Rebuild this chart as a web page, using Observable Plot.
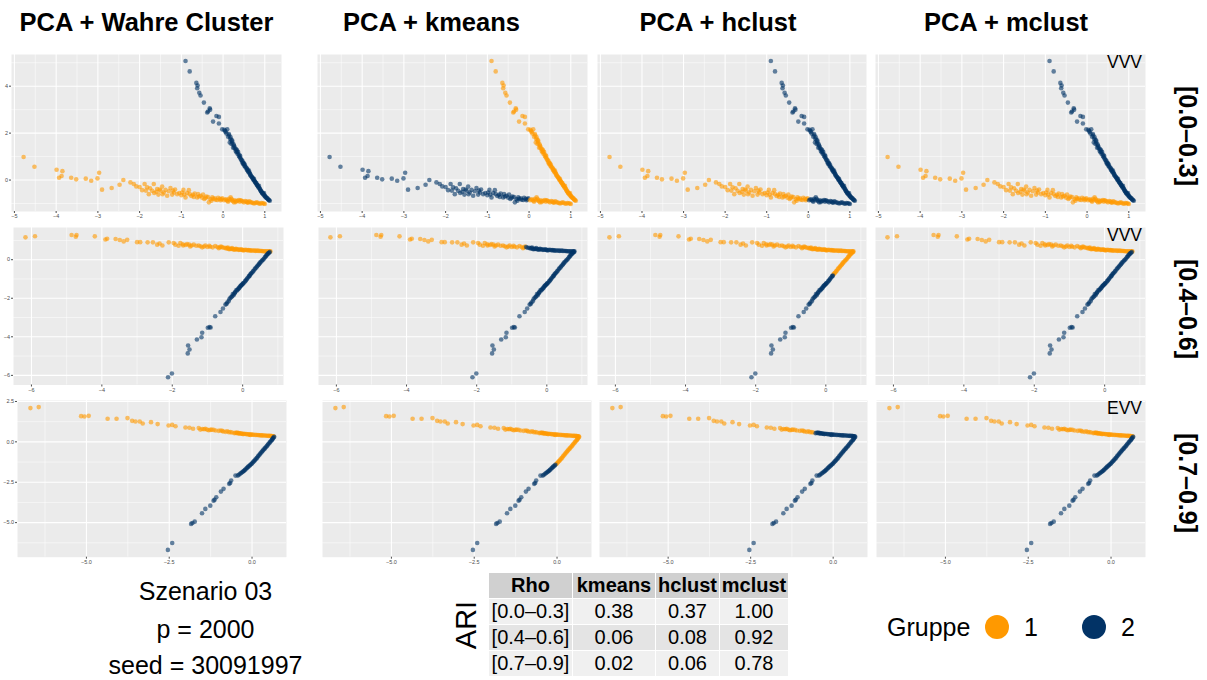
<!DOCTYPE html>
<html><head><meta charset="utf-8">
<script src="https://cdn.jsdelivr.net/npm/d3@7"></script>
<script src="https://cdn.jsdelivr.net/npm/@observablehq/plot@0.6"></script>
<style>
body{margin:0;background:#fff;font-family:"Liberation Sans",Arial,sans-serif;color:#000;}
#root{position:relative;width:1207px;height:680px;overflow:hidden;}
.ctr{position:absolute;transform:translate(-50%,-50%);white-space:nowrap;}
.title{font-weight:bold;font-size:25.5px;}
.rowlab{position:absolute;font-weight:bold;font-size:25px;transform:translate(-50%,-50%) rotate(90deg);white-space:nowrap;}
.info{font-size:25px;}
#ari{position:absolute;font-size:29px;transform:translate(-50%,-50%) rotate(-90deg);white-space:nowrap;}
#tbl{position:absolute;left:488px;top:572px;border-collapse:collapse;table-layout:fixed;font-size:20px;}
#tbl td,#tbl th{border:1px solid #fff;height:25px;padding:0;text-align:center;}
#tbl th{background:#D0D0D0;font-weight:bold;}
.leg{position:absolute;font-size:25px;white-space:nowrap;transform:translateY(-50%);}
.dotl{position:absolute;width:24px;height:24px;border-radius:50%;transform:translate(-50%,-50%);}
</style>
</head><body><div id="root"></div>
<script>
// ---------- data ----------
const colTitles = ["PCA + Wahre Cluster", "PCA + kmeans", "PCA + hclust", "PCA + mclust"];
const rowLabels = ["[0.0–0.3]", "[0.4–0.6]", "[0.7–0.9]"];
const modelNames = ["VVV", "VVV", "EVV"];
const groups = ["1", "2"];
const groupColors = ["#FF9900", "#023366"];
const infoLines = ["Szenario 03", "p = 2000", "seed = 30091997"];
const tableHeader = ["Rho", "kmeans", "hclust", "mclust"];
const ariKmeans = [0.38, 0.06, 0.02];
const ariHclust = [0.37, 0.08, 0.06];
const ariMclust = [1.00, 0.92, 0.78];

// point tuples: [PC1, PC2, true cluster, kmeans, hclust, mclust]
const row1Points = [
 // arm of cluster 1
 [-4.78,0.98,1,2,1,1],[-4.52,0.57,1,2,1,1],[-3.99,0.44,1,2,1,1],[-3.85,0.38,1,2,1,1],[-3.93,0.10,1,2,1,1],
 [-3.87,0.17,1,2,1,1],[-3.64,0.10,1,2,1,1],[-3.52,0.03,1,2,1,1],[-3.29,0.06,1,2,1,1],[-3.16,-0.03,1,2,1,1],
 [-3.01,0.07,1,2,1,1],[-2.97,0.31,1,2,1,1],[-2.90,-0.41,1,2,1,1],[-2.67,-0.34,1,2,1,1],[-2.48,-0.20,1,2,1,1],
 [-2.39,0.00,1,2,1,1],[-2.22,-0.10,1,2,1,1],[-2.14,-0.17,1,2,1,1],[-2.08,-0.27,1,2,1,1],[-2.00,-0.30,1,2,1,1],
 [-1.94,-0.43,1,2,1,1],[-1.88,-0.17,1,2,1,1],[-1.82,-0.31,1,2,1,1],[-1.78,-0.60,1,2,1,1],[-1.70,-0.46,1,2,1,1],
 [-1.66,-0.17,1,2,1,1],[-1.60,-0.50,1,2,1,1],[-1.58,-0.38,1,2,1,1],[-1.55,-0.62,1,2,1,1],[-1.50,-0.45,1,2,1,1],
 [-1.46,-0.28,1,2,1,1],[-1.42,-0.53,1,2,1,1],[-1.34,-0.67,1,2,1,1],[-1.30,-0.48,1,2,1,1],[-1.26,-0.34,1,2,1,1],
 [-1.20,-0.45,1,2,1,1],[-1.18,-0.53,1,2,1,1],[-1.10,-0.60,1,2,1,1],[-1.00,-0.65,1,2,1,1],[-0.98,-0.53,1,2,1,1],
 [-0.95,-0.42,1,2,1,1],[-0.90,-0.74,1,2,1,1],[-0.82,-0.43,1,2,1,1],[-0.80,-0.60,1,2,1,1],[-0.72,-0.63,1,2,1,1],
 [-0.70,-0.72,1,2,1,1],[-0.62,-0.74,1,2,1,1],[-0.60,-0.60,1,2,1,1],[-0.54,-0.67,1,2,1,1],[-0.45,-0.81,1,2,1,1],
 [-0.40,-0.70,1,2,1,1],[-0.34,-0.95,1,2,1,1],[-0.30,-0.82,1,2,1,1],[-0.26,-0.74,1,2,1,1],[-0.20,-0.78,1,2,1,1],
 [-0.14,-0.85,1,2,1,1],[-0.08,-0.80,1,2,1,1],[-0.02,-0.78,1,2,1,1],
 [-1.85,-0.45,1,2,1,1],[-1.75,-0.35,1,2,1,1],[-1.65,-0.55,1,2,1,1],[-1.52,-0.40,1,2,1,1],[-1.45,-0.60,1,2,1,1],
 [-1.38,-0.42,1,2,1,1],[-1.22,-0.62,1,2,1,1],[-1.15,-0.40,1,2,1,1],[-1.05,-0.55,1,2,1,1],[-0.93,-0.62,1,2,1,1],
 [-0.86,-0.55,1,2,1,1],[-0.76,-0.68,1,2,1,1],[-0.68,-0.58,1,2,1,1],[-0.58,-0.70,1,2,1,1],[-0.50,-0.75,1,2,1,1],
 [-0.48,-0.62,1,2,1,1],[-0.42,-0.76,1,2,1,1],[-0.36,-0.72,1,2,1,1],[-0.28,-0.88,1,2,1,1],[-0.24,-0.80,1,2,1,1],
 [-0.18,-0.84,1,2,1,1],[-0.12,-0.76,1,2,1,1],[-0.06,-0.86,1,2,1,1],[-0.04,-0.82,1,2,1,1],
 [0.05,-0.82,1,1,2,1],[0.10,-0.88,1,1,2,1],[0.14,-0.80,1,1,2,1],[0.18,-0.74,1,1,2,1],[0.22,-0.86,1,1,2,1],
 [0.26,-0.95,1,1,2,1],[0.32,-0.90,1,1,2,1],[0.38,-0.85,1,1,2,1],[0.44,-0.88,1,1,2,1],[0.50,-0.95,1,1,2,1],
 [0.56,-0.92,1,1,2,1],[0.62,-0.91,1,1,2,1],[0.68,-0.96,1,1,2,1],[0.74,-1.00,1,1,2,1],[0.80,-0.95,1,1,2,1],
 [0.86,-1.00,1,1,2,1],[0.92,-0.98,1,1,2,1],[0.98,-1.00,1,1,2,1],
 [0.02,-0.86,1,1,2,1],[0.08,-0.84,1,1,2,1],[0.12,-0.92,1,1,2,1],[0.16,-0.86,1,1,2,1],[0.20,-0.80,1,1,2,1],
 [0.24,-0.90,1,1,2,1],[0.28,-0.86,1,1,2,1],[0.30,-0.94,1,1,2,1],[0.35,-0.88,1,1,2,1],[0.40,-0.92,1,1,2,1],
 [0.42,-0.86,1,1,2,1],[0.47,-0.91,1,1,2,1],[0.53,-0.90,1,1,2,1],[0.58,-0.95,1,1,2,1],[0.60,-0.97,1,1,2,1],
 [0.65,-0.93,1,1,2,1],[0.71,-0.97,1,1,2,1],[0.77,-0.98,1,1,2,1],[0.83,-0.97,1,1,2,1],[0.89,-1.01,1,1,2,1],
 [0.95,-0.99,1,1,2,1],[1.00,-1.02,1,1,2,1],
 // arm of cluster 2
 [-0.90,5.07,2,1,2,2],[-0.80,4.63,2,1,2,2],[-0.64,4.14,2,1,2,2],[-0.61,4.03,2,1,2,2],[-0.62,3.91,2,1,2,2],
 [-0.57,3.72,2,1,2,2],[-0.54,3.60,2,1,2,2],[-0.46,3.30,2,1,2,2],[-0.36,2.92,2,1,2,2],[-0.32,3.06,2,1,2,2],
 [-0.31,3.00,2,1,2,2],[-0.38,2.88,2,1,2,2],[-0.16,2.73,2,1,2,2],[-0.10,2.69,2,1,2,2],[-0.24,2.49,2,1,2,2],
 [-0.10,2.41,2,1,2,2],[-0.02,2.16,2,1,2,2],[0.03,2.14,2,1,2,2],[0.10,2.16,2,1,2,2],[0.06,2.05,2,1,2,2],
 [0.14,1.96,2,1,2,2],[0.12,1.85,2,1,2,2],[0.18,1.82,2,1,2,2],[0.20,1.70,2,1,2,2],[0.22,1.68,2,1,2,2],
 [0.16,1.60,2,1,2,2],[0.20,1.54,2,1,2,2],[0.26,1.47,2,1,2,2],[0.24,1.38,2,1,2,2],[0.28,1.35,2,1,2,2],
 [0.30,1.25,2,1,2,2],[0.32,1.18,2,1,2,2],[0.36,1.20,2,1,2,2],[0.35,1.11,2,1,2,2],[0.38,1.02,2,1,2,2],
 [0.40,0.97,2,1,2,2],[0.43,0.86,2,1,2,2],[0.46,0.75,2,1,2,2],[0.48,0.68,2,1,2,2],[0.50,0.70,2,1,2,2],
 [0.51,0.61,2,1,2,2],[0.54,0.54,2,1,2,2],[0.58,0.47,2,1,2,2],[0.60,0.38,2,1,2,2],[0.62,0.40,2,1,2,2],
 [0.64,0.28,2,1,2,2],[0.66,0.20,2,1,2,2],[0.70,0.11,2,1,2,2],[0.72,0.04,2,1,2,2],[0.74,0.05,2,1,2,2],
 [0.75,-0.03,2,1,2,2],[0.78,-0.12,2,1,2,2],[0.81,-0.20,2,1,2,2],[0.84,-0.28,2,1,2,2],[0.86,-0.25,2,1,2,2],
 [0.88,-0.38,2,1,2,2],[0.90,-0.45,2,1,2,2],[0.93,-0.53,2,1,2,2],[0.96,-0.60,2,1,2,2],[0.98,-0.55,2,1,2,2],
 [0.99,-0.67,2,1,2,2],[1.02,-0.72,2,1,2,2],[1.05,-0.77,2,1,2,2],[1.08,-0.82,2,1,2,2],[1.12,-0.88,2,1,2,2],
 [0.05,2.10,2,1,2,2],[0.08,1.98,2,1,2,2],[0.15,1.90,2,1,2,2],[0.17,1.75,2,1,2,2],[0.22,1.60,2,1,2,2],
 [0.25,1.52,2,1,2,2],[0.27,1.42,2,1,2,2],[0.31,1.32,2,1,2,2],[0.33,1.28,2,1,2,2],[0.34,1.20,2,1,2,2],
 [0.39,1.08,2,1,2,2],[0.41,1.02,2,1,2,2],[0.42,0.92,2,1,2,2],[0.45,0.85,2,1,2,2],[0.47,0.80,2,1,2,2],
 [0.49,0.72,2,1,2,2],[0.52,0.66,2,1,2,2],[0.53,0.58,2,1,2,2],[0.56,0.52,2,1,2,2],[0.57,0.44,2,1,2,2],
 [0.59,0.42,2,1,2,2],[0.61,0.33,2,1,2,2],[0.63,0.32,2,1,2,2],[0.65,0.24,2,1,2,2],[0.67,0.16,2,1,2,2],
 [0.69,0.14,2,1,2,2],[0.71,0.08,2,1,2,2],[0.73,0.00,2,1,2,2],[0.76,-0.06,2,1,2,2],[0.77,-0.08,2,1,2,2],
 [0.79,-0.15,2,1,2,2],[0.80,-0.14,2,1,2,2],[0.82,-0.22,2,1,2,2],[0.83,-0.25,2,1,2,2],[0.85,-0.32,2,1,2,2],
 [0.87,-0.34,2,1,2,2],[0.89,-0.40,2,1,2,2],[0.91,-0.48,2,1,2,2],[0.92,-0.50,2,1,2,2],[0.94,-0.56,2,1,2,2],
 [0.95,-0.55,2,1,2,2],[0.97,-0.62,2,1,2,2],[1.00,-0.66,2,1,2,2],[1.01,-0.70,2,1,2,2],[1.03,-0.75,2,1,2,2],
 [1.06,-0.78,2,1,2,2],[1.09,-0.84,2,1,2,2],[1.10,-0.86,2,1,2,2]
];

const row2Points = [
 // arm of cluster 1
 [-6.17,1.16,1,1,1,1],[-5.90,1.22,1,1,1,1],[-4.86,1.28,1,1,1,1],[-4.74,1.19,1,1,1,1],[-4.72,1.28,1,1,1,1],
 [-4.20,1.21,1,1,1,1],[-3.90,1.05,1,1,1,1],[-3.85,1.09,1,1,1,1],[-3.61,1.07,1,1,1,1],[-3.49,1.02,1,1,1,1],
 [-3.38,0.95,1,1,1,1],[-3.28,1.03,1,1,1,1],[-3.00,0.91,1,1,1,1],[-2.91,0.91,1,1,1,1],[-2.70,0.90,1,1,1,1],
 [-2.55,0.90,1,1,1,1],[-2.43,0.78,1,1,1,1],[-2.36,0.84,1,1,1,1],[-2.28,0.74,1,1,1,1],[-2.10,0.90,1,1,1,1],
 [-1.96,0.86,1,1,1,1],[-1.91,0.78,1,1,1,1],[-1.82,0.72,1,1,1,1],[-1.77,0.86,1,1,1,1],[-1.69,0.74,1,1,1,1],
 [-1.58,0.81,1,1,1,1],[-1.49,0.69,1,1,1,1],[-1.39,0.78,1,1,1,1],[-1.25,0.74,1,1,1,1],[-1.15,0.64,1,1,1,1],
 [-1.06,0.74,1,1,1,1],[-0.92,0.67,1,1,1,1],[-0.78,0.71,1,1,1,1],[-0.68,0.60,1,1,1,1],[-0.62,0.68,1,1,1,1],
 [-1.70,0.80,1,1,1,1],[-1.62,0.76,1,1,1,1],[-1.52,0.78,1,1,1,1],[-1.45,0.74,1,1,1,1],[-1.32,0.72,1,1,1,1],
 [-1.20,0.70,1,1,1,1],[-1.10,0.68,1,1,1,1],[-1.00,0.66,1,1,1,1],[-0.95,0.72,1,1,1,1],[-0.85,0.64,1,1,1,1],
 [-0.72,0.66,1,1,1,1],[-0.65,0.63,1,1,1,1],
 [-0.59,0.66,1,2,1,1],[-0.50,0.62,1,2,1,1],[-0.44,0.60,1,2,1,1],[-0.40,0.56,1,2,1,1],[-0.35,0.57,1,2,1,1],
 [-0.30,0.60,1,2,1,1],[-0.25,0.53,1,2,1,1],[-0.20,0.56,1,2,1,1],[-0.14,0.53,1,2,1,1],[-0.08,0.52,1,2,1,1],
 [-0.02,0.52,1,2,1,1],[0.05,0.50,1,2,1,1],[0.12,0.50,1,2,1,1],[0.20,0.49,1,2,1,1],[0.26,0.48,1,2,1,1],
 [0.34,0.47,1,2,1,1],[0.41,0.47,1,2,1,1],[0.48,0.46,1,2,1,1],[0.55,0.45,1,2,1,1],[0.62,0.44,1,2,1,1],
 [0.69,0.43,1,2,1,1],[0.75,0.43,1,2,1,1],[0.79,0.43,1,2,1,1],
 [-0.55,0.62,1,2,1,1],[-0.47,0.58,1,2,1,1],[-0.42,0.63,1,2,1,1],[-0.37,0.54,1,2,1,1],[-0.32,0.56,1,2,1,1],
 [-0.28,0.55,1,2,1,1],[-0.22,0.52,1,2,1,1],[-0.17,0.55,1,2,1,1],[-0.11,0.51,1,2,1,1],[-0.05,0.53,1,2,1,1],
 [0.00,0.50,1,2,1,1],[0.02,0.48,1,2,1,1],[0.08,0.51,1,2,1,1],[0.15,0.48,1,2,1,1],[0.17,0.50,1,2,1,1],
 [0.23,0.47,1,2,1,1],[0.30,0.48,1,2,1,1],[0.37,0.46,1,2,1,1],[0.44,0.46,1,2,1,1],[0.52,0.45,1,2,1,1],
 [0.58,0.44,1,2,1,1],[0.65,0.43,1,2,1,1],[0.72,0.42,1,2,1,1],[0.77,0.42,1,2,1,1],
 // arm of cluster 2
 [0.77,0.40,2,2,1,2],[0.73,0.33,2,2,1,2],[0.69,0.26,2,2,1,2],[0.65,0.16,2,2,1,2],[0.60,0.05,2,2,1,2],
 [0.55,-0.04,2,2,1,2],[0.50,-0.14,2,2,1,2],[0.46,-0.24,2,2,1,2],[0.41,-0.34,2,2,1,2],[0.36,-0.45,2,2,1,2],
 [0.31,-0.57,2,2,1,2],[0.26,-0.68,2,2,1,2],[0.22,-0.76,2,2,1,2],
 [0.75,0.36,2,2,1,2],[0.71,0.30,2,2,1,2],[0.67,0.21,2,2,1,2],[0.63,0.12,2,2,1,2],[0.58,0.00,2,2,1,2],
 [0.53,-0.09,2,2,1,2],[0.48,-0.19,2,2,1,2],[0.44,-0.29,2,2,1,2],[0.39,-0.40,2,2,1,2],[0.34,-0.50,2,2,1,2],
 [0.29,-0.62,2,2,1,2],[0.24,-0.72,2,2,1,2],
 [0.20,-0.82,2,2,2,2],[0.17,-0.88,2,2,2,2],[0.12,-1.00,2,2,2,2],[0.10,-1.05,2,2,2,2],[0.08,-1.10,2,2,2,2],
 [0.03,-1.21,2,2,2,2],[0.00,-1.25,2,2,2,2],[-0.02,-1.30,2,2,2,2],[-0.05,-1.35,2,2,2,2],[-0.07,-1.38,2,2,2,2],
 [-0.10,-1.48,2,2,2,2],[-0.14,-1.55,2,2,2,2],[-0.18,-1.58,2,2,2,2],[-0.21,-1.67,2,2,2,2],[-0.22,-1.72,2,2,2,2],
 [-0.28,-1.78,2,2,2,2],[-0.26,-1.84,2,2,2,2],[-0.30,-1.90,2,2,2,2],[-0.35,-1.98,2,2,2,2],[-0.40,-2.16,2,2,2,2],
 [0.19,-0.85,2,2,2,2],[0.14,-0.95,2,2,2,2],[0.06,-1.14,2,2,2,2],[0.01,-1.24,2,2,2,2],[-0.04,-1.33,2,2,2,2],
 [-0.09,-1.43,2,2,2,2],[-0.12,-1.50,2,2,2,2],[-0.16,-1.60,2,2,2,2],[-0.24,-1.76,2,2,2,2],[-0.32,-1.94,2,2,2,2],
 [-0.38,-2.05,2,2,2,2],[-0.44,-2.22,2,2,2,2],[-0.46,-2.30,2,2,2,2],
 [-0.49,-2.33,2,2,2,2],[-0.56,-2.53,2,2,2,2],[-0.63,-2.71,2,2,2,2],[-0.78,-2.93,2,2,2,2],[-0.94,-3.50,2,2,2,2],
 [-0.99,-3.53,2,2,2,2],[-0.91,-3.52,2,2,2,2],[-1.15,-3.79,2,2,2,2],[-1.30,-4.14,2,2,2,2],[-1.17,-4.02,2,2,2,2],
 [-1.55,-4.45,2,2,2,2],[-1.51,-4.66,2,2,2,2],[-1.56,-4.86,2,2,2,2],[-2.01,-5.90,2,2,2,2],[-2.12,-6.10,2,2,2,2]
];

const row3Points = [
 // arm of cluster 1
 [-6.69,2.09,1,1,1,1],[-6.44,2.15,1,1,1,1],[-5.16,1.59,1,1,1,1],[-5.06,1.57,1,1,1,1],[-4.93,1.61,1,1,1,1],
 [-4.36,1.43,1,1,1,1],[-4.09,1.43,1,1,1,1],[-3.76,1.47,1,1,1,1],[-3.62,1.30,1,1,1,1],[-3.52,1.26,1,1,1,1],
 [-3.39,1.26,1,1,1,1],[-3.30,1.14,1,1,1,1],[-3.05,1.22,1,1,1,1],[-2.85,1.10,1,1,1,1],[-2.52,1.01,1,1,1,1],
 [-2.41,1.05,1,1,1,1],[-2.31,0.97,1,1,1,1],[-2.01,0.89,1,1,1,1],[-1.89,0.87,1,1,1,1],[-1.78,0.81,1,1,1,1],
 [-1.61,0.85,1,1,1,1],[-1.56,0.76,1,1,1,1],[-1.50,0.80,1,1,1,1],[-1.41,0.81,1,1,1,1],[-1.31,0.72,1,1,1,1],
 [-1.22,0.76,1,1,1,1],[-1.16,0.74,1,1,1,1],[-1.01,0.68,1,1,1,1],[-0.95,0.70,1,1,1,1],[-0.87,0.64,1,1,1,1],
 [-0.75,0.66,1,1,1,1],[-0.70,0.60,1,1,1,1],[-0.65,0.60,1,1,1,1],
 [-1.45,0.78,1,1,1,1],[-1.36,0.76,1,1,1,1],[-1.26,0.74,1,1,1,1],[-1.10,0.70,1,1,1,1],[-0.90,0.68,1,1,1,1],
 [-0.80,0.62,1,1,1,1],[-0.60,0.58,1,1,1,1],
 [-0.50,0.56,1,1,2,1],[-0.45,0.58,1,1,2,1],[-0.40,0.54,1,1,2,1],[-0.35,0.52,1,1,2,1],[-0.30,0.50,1,1,2,1],
 [-0.24,0.50,1,1,2,1],[-0.17,0.48,1,1,2,1],[-0.10,0.46,1,1,2,1],[-0.05,0.43,1,1,2,1],[0.02,0.44,1,1,2,1],
 [0.10,0.43,1,1,2,1],[0.18,0.42,1,1,2,1],[0.25,0.41,1,1,2,1],[0.32,0.40,1,1,2,1],[0.40,0.39,1,1,2,1],
 [0.48,0.38,1,1,2,1],[0.55,0.37,1,1,2,1],[0.60,0.36,1,1,2,1],[0.65,0.35,1,1,2,1],
 [-0.53,0.54,1,1,2,1],[-0.47,0.55,1,1,2,1],[-0.42,0.52,1,1,2,1],[-0.38,0.53,1,1,2,1],[-0.32,0.51,1,1,2,1],
 [-0.27,0.48,1,1,2,1],[-0.21,0.49,1,1,2,1],[-0.14,0.47,1,1,2,1],[-0.07,0.45,1,1,2,1],[-0.02,0.46,1,1,2,1],
 [0.05,0.44,1,1,2,1],[0.14,0.42,1,1,2,1],[0.21,0.41,1,1,2,1],[0.28,0.40,1,1,2,1],[0.36,0.39,1,1,2,1],
 [0.44,0.38,1,1,2,1],[0.51,0.37,1,1,2,1],[0.58,0.36,1,1,2,1],[0.63,0.35,1,1,2,1],
 // arm of cluster 2
 [0.67,0.31,2,1,2,2],[0.63,0.22,2,1,2,2],[0.60,0.12,2,1,2,2],[0.55,0.00,2,1,2,2],[0.50,-0.12,2,1,2,2],
 [0.45,-0.25,2,1,2,2],[0.40,-0.37,2,1,2,2],[0.35,-0.48,2,1,2,2],[0.30,-0.60,2,1,2,2],[0.25,-0.72,2,1,2,2],
 [0.20,-0.85,2,1,2,2],[0.15,-0.98,2,1,2,2],[0.10,-1.10,2,1,2,2],[0.05,-1.20,2,1,2,2],[0.00,-1.32,2,1,2,2],
 [0.65,0.27,2,1,2,2],[0.62,0.17,2,1,2,2],[0.58,0.07,2,1,2,2],[0.53,-0.05,2,1,2,2],[0.48,-0.18,2,1,2,2],
 [0.43,-0.30,2,1,2,2],[0.38,-0.42,2,1,2,2],[0.33,-0.54,2,1,2,2],[0.28,-0.66,2,1,2,2],[0.23,-0.78,2,1,2,2],
 [0.18,-0.91,2,1,2,2],[0.13,-1.04,2,1,2,2],[0.08,-1.15,2,1,2,2],[0.03,-1.26,2,1,2,2],[-0.02,-1.37,2,1,2,2],
 [-0.05,-1.42,2,2,2,2],[-0.10,-1.51,2,2,2,2],[-0.15,-1.60,2,2,2,2],[-0.20,-1.71,2,2,2,2],[-0.25,-1.80,2,2,2,2],
 [-0.07,-1.46,2,2,2,2],[-0.12,-1.55,2,2,2,2],[-0.17,-1.65,2,2,2,2],[-0.22,-1.75,2,2,2,2],[-0.27,-1.84,2,2,2,2],
 [-0.33,-1.93,2,2,2,2],[-0.40,-2.04,2,2,2,2],
 [-0.30,-1.88,2,2,2,2],[-0.36,-1.98,2,2,2,2],[-0.43,-2.09,2,2,2,2],[-0.50,-2.09,2,2,2,2],[-0.63,-2.40,2,2,2,2],
 [-0.66,-2.55,2,2,2,2],[-0.69,-2.60,2,2,2,2],[-0.86,-2.91,2,2,2,2],[-0.94,-3.08,2,2,2,2],[-1.08,-3.43,2,2,2,2],
 [-1.13,-3.58,2,2,2,2],[-1.16,-3.64,2,2,2,2],[-1.26,-3.95,2,2,2,2],[-1.41,-4.15,2,2,2,2],[-1.51,-4.42,2,2,2,2],
 [-1.73,-4.94,2,2,2,2],[-1.80,-5.02,2,2,2,2],[-1.84,-5.08,2,2,2,2],[-2.41,-6.26,2,2,2,2],[-2.54,-6.69,2,2,2,2]
];

// axis domains and ticks per row
const row1XDomain = [-5.07, 1.40], row1YDomain = [-1.34, 5.35];
const row1XMajor = [-5, -4, -3, -2, -1, 0, 1], row1XMinor = [-4.5, -3.5, -2.5, -1.5, -0.5, 0.5];
const row1YMajor = [0, 2, 4], row1YMinor = [-1, 1, 3, 5];
const row2XDomain = [-6.51, 1.16], row2YDomain = [-6.50, 1.67];
const row2XMajor = [-6, -4, -2, 0], row2XMinor = [-5, -3, -1, 1];
const row2YMajor = [-6, -4, -2, 0], row2YMinor = [-5, -3, -1, 1];
const row3XDomain = [-7.08, 1.04], row3YDomain = [-7.14, 2.56];
const row3XMajor = [-5, -2.5, 0], row3XMinor = [-6.25, -3.75, -1.25];
const row3YMajor = [-5, -2.5, 0, 2.5], row3YMinor = [-6.25, -3.75, -1.25, 1.25];

// ---------- layout ----------
const rows = [
  {pts: row1Points, xd: row1XDomain, yd: row1YDomain, xM: row1XMajor, xm: row1XMinor, yM: row1YMajor, ym: row1YMinor, fmt: d3.format("d"), top: 54, h: 157,
   boxes: [[11, 270], [317, 270], [597, 269], [875, 270]], labY: 136},
  {pts: row2Points, xd: row2XDomain, yd: row2YDomain, xM: row2XMajor, xm: row2XMinor, yM: row2YMajor, ym: row2YMinor, fmt: d3.format("d"), top: 226.5, h: 157.5,
   boxes: [[13, 270], [318, 269], [597, 269], [875, 270]], labY: 309},
  {pts: row3Points, xd: row3XDomain, yd: row3YDomain, xM: row3XMajor, xm: row3XMinor, yM: row3YMajor, ym: row3YMinor, fmt: d3.format(".1f"), top: 400, h: 156.7,
   boxes: [[17, 269], [322, 269], [599, 268], [876, 269]], labY: 483}
];
const titleX = [146.5, 431.5, 718, 1006];

const root = document.getElementById("root");
function addDiv(cls, text, x, y, extra) {
  const d = document.createElement("div");
  d.className = cls; d.textContent = text;
  d.style.left = x + "px"; d.style.top = y + "px";
  if (extra) Object.assign(d.style, extra);
  root.appendChild(d); return d;
}

colTitles.forEach((t, i) => addDiv("ctr title", t, titleX[i], 22));

const mL = 22, mB = 12;
rows.forEach((r, ri) => {
  r.boxes.forEach(([left, w], ci) => {
    const marks = [
      Plot.frame({fill: "#EBEBEB", stroke: null}),
      Plot.ruleX(r.xm, {stroke: "#fff", strokeWidth: 0.5}),
      Plot.ruleY(r.ym, {stroke: "#fff", strokeWidth: 0.5}),
      Plot.ruleX(r.xM, {stroke: "#fff", strokeWidth: 1.05}),
      Plot.ruleY(r.yM, {stroke: "#fff", strokeWidth: 1.05}),
      Plot.dot(r.pts, {x: d => d[0], y: d => d[1], fill: d => String(d[2 + ci]), r: 2.3, fillOpacity: 0.6, stroke: null}),
      Plot.axisX({ticks: r.xM, tickFormat: r.fmt, tickSize: 2, tickPadding: 1, fontSize: 5.5, color: "#4D4D4D"})
    ];
    if (ci === 0) marks.push(Plot.axisY({ticks: r.yM, tickFormat: r.fmt, tickSize: 2, tickPadding: 1.5, fontSize: 5.5, color: "#4D4D4D"}));
    if (ci === 3) marks.push(Plot.text([modelNames[ri]], {text: d => d, frameAnchor: "top-right", textAnchor: "end", lineAnchor: "top", dx: -3.5, dy: 1.5, fontSize: 17.5, fill: "#000"}));
    const chart = Plot.plot({
      width: w + mL, height: r.h + mB,
      marginLeft: mL, marginRight: 0, marginTop: 0, marginBottom: mB,
      x: {domain: r.xd, axis: null},
      y: {domain: r.yd, axis: null},
      color: {domain: groups, range: groupColors},
      style: {fontFamily: "Liberation Sans, Arial, sans-serif", background: "transparent", overflow: "visible"},
      marks
    });
    chart.style.position = "absolute";
    chart.style.left = (left - mL) + "px";
    chart.style.top = r.top + "px";
    root.appendChild(chart);
  });
  const lab = document.createElement("div");
  lab.className = "rowlab"; lab.textContent = rowLabels[ri];
  lab.style.left = "1187px"; lab.style.top = r.labY + "px";
  root.appendChild(lab);
});

// info text
const infoY = [591, 629, 665];
infoLines.forEach((t, i) => addDiv("ctr info", t, 205.5, infoY[i]));

// ARI table
const ari = document.createElement("div");
ari.id = "ari"; ari.textContent = "ARI"; ari.style.left = "466px"; ari.style.top = "625px";
root.appendChild(ari);
const colW = [84, 83, 64, 69];
const tbl = d3.select(root).append("table").attr("id", "tbl");
const cg = tbl.append("colgroup");
colW.forEach(w => cg.append("col").style("width", w + "px"));
tbl.style("width", d3.sum(colW) + "px");
tbl.append("tr").selectAll("th").data(tableHeader).join("th").text(d => d);
const rowFills = ["#F0F0F0", "#E4E4E4", "#F0F0F0"];
rowLabels.forEach((lab, i) => {
  const tr = tbl.append("tr");
  [lab, ariKmeans[i].toFixed(2), ariHclust[i].toFixed(2), ariMclust[i].toFixed(2)]
    .forEach(v => tr.append("td").text(v).style("background", rowFills[i]));
});

// legend
addDiv("leg", "Gruppe", 887, 627);
const legX = [997, 1094];
groups.forEach((g, i) => {
  addDiv("dotl", "", legX[i], 627, {background: groupColors[i]});
  addDiv("leg", g, legX[i] + 27, 627);
});
</script>
</body></html>
